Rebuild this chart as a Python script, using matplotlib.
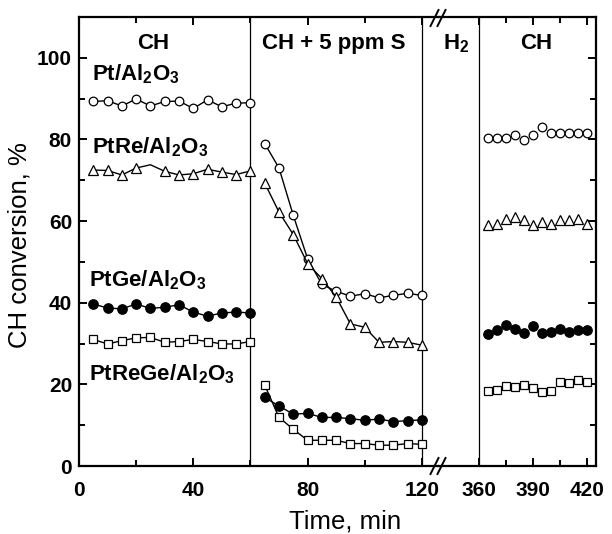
import matplotlib
matplotlib.use('Agg')
import matplotlib.pyplot as plt
from matplotlib.lines import Line2D
from matplotlib.ticker import MultipleLocator, FixedLocator

plt.rcParams['font.family'] = ['Liberation Sans', 'DejaVu Sans']
plt.rcParams['mathtext.fontset'] = 'custom'
plt.rcParams['mathtext.rm'] = 'Liberation Sans'
plt.rcParams['mathtext.bf'] = 'Liberation Sans:bold'
plt.rcParams['mathtext.it'] = 'Liberation Sans:italic'

# ---------------- data ----------------
# first CH period (0-60 min)
t_ch1 = [5, 10, 15, 20, 25, 30, 35, 40, 45, 50, 55, 60]
pt_ch1 = [89.3, 89.5, 88.2, 89.9, 88.2, 89.3, 89.4, 87.6, 89.7, 88.0, 88.9, 89.0]
t_re_ch1 = [5, 10, 15, 20, 25, 30, 35, 40, 45, 50, 55, 60]
re_ch1 = [72.5, 72.4, 71.3, 73.0, 73.8, 72.2, 71.3, 71.6, 72.7, 72.0, 71.4, 72.3]
re_ch1_marked = [0, 1, 2, 3, 5, 6, 7, 8, 9, 10, 11]
ge_ch1 = [39.7, 38.7, 38.5, 39.7, 38.6, 38.9, 39.5, 37.7, 36.7, 37.5, 37.7, 37.5]
rege_ch1 = [31.0, 29.9, 30.7, 31.4, 31.5, 30.3, 30.5, 31.0, 30.5, 29.9, 29.9, 30.5]

# CH + 5 ppm S period (60-120 min)
t_s = [65, 70, 75, 80, 85, 90, 95, 100, 105, 110, 115, 120]
pt_s = [79.0, 73.0, 61.4, 50.8, 44.5, 42.8, 41.6, 42.2, 41.2, 41.8, 42.3, 41.8]
re_s = [69.3, 62.2, 56.7, 49.6, 45.9, 41.4, 34.8, 34.0, 30.3, 30.5, 30.3, 29.6]
ge_s = [16.8, 14.7, 12.7, 12.9, 11.9, 11.9, 11.6, 11.2, 11.5, 10.9, 11.1, 11.3]
rege_s = [19.8, 11.9, 9.0, 6.3, 6.3, 6.3, 5.5, 5.5, 5.1, 5.1, 5.5, 5.3]

# second CH period (after H2 treatment)
t_ch2 = [365, 370, 375, 380, 385, 390, 395, 400, 405, 410, 415, 420]
pt_ch2 = [80.3, 80.3, 80.3, 81.1, 79.9, 81.1, 83.1, 81.5, 81.5, 81.5, 81.5, 81.5]
re_ch2 = [59.0, 59.2, 60.4, 61.0, 60.2, 59.0, 59.8, 59.2, 60.2, 60.2, 60.6, 59.4]
ge_ch2 = [32.4, 33.3, 34.6, 33.6, 32.5, 34.2, 32.5, 32.9, 33.6, 32.8, 33.2, 33.2]
rege_ch2 = [18.4, 18.7, 19.5, 19.4, 19.8, 19.2, 18.2, 18.4, 20.5, 20.3, 21.1, 20.7]

x_major_left = [0, 40, 80, 120]
x_minor_left = [20, 60, 100]
x_major_right = [360, 390, 420]
x_minor_right = [375, 405]
period_lines_left = [60, 120]
period_lines_right = [360]

# ---------------- figure ----------------
W, H = 612, 534
fig = plt.figure(figsize=(W / 100, H / 100), dpi=100)
ax1 = fig.add_axes([79 / W, 68 / H, 360 / W, 449 / H])
ax2 = fig.add_axes([439 / W, 68 / H, 157 / W, 449 / H])

lw = 1.0
ms_c = 6.2
ms_s = 5.6
ms_t = 7.0
mew = 0.9

open_c = dict(marker='o', mfc='white', mec='black', ms=ms_c, mew=mew, color='black', lw=lw)
fill_c = dict(marker='o', mfc='black', mec='black', ms=ms_c + 0.6, mew=mew, color='black', lw=lw)
open_s = dict(marker='s', mfc='white', mec='black', ms=ms_s, mew=mew, color='black', lw=lw)
open_t = dict(marker='^', mfc='white', mec='black', ms=ms_t, mew=mew, color='black', lw=lw)

for v in period_lines_left:
    ax1.axvline(v, color='black', lw=0.9, zorder=1)
for v in period_lines_right:
    ax2.axvline(v, color='black', lw=0.9, zorder=1)

ax1.plot(t_ch1, pt_ch1, **open_c, zorder=3)
ax1.plot(t_re_ch1, re_ch1, markevery=re_ch1_marked, **open_t, zorder=3)
ax1.plot(t_ch1, ge_ch1, **fill_c, zorder=3)
ax1.plot(t_ch1, rege_ch1, **open_s, zorder=3)

ax1.plot(t_s, pt_s, **open_c, zorder=3)
ax1.plot(t_s, re_s, **open_t, zorder=3)
ax1.plot(t_s, ge_s, **fill_c, zorder=3)
ax1.plot(t_s, rege_s, **open_s, zorder=3)

nl = dict(linestyle='none')
ax2.plot(t_ch2, pt_ch2, **{**open_c, **nl}, zorder=3)
ax2.plot(t_ch2, re_ch2, **{**open_t, **nl}, zorder=3)
ax2.plot(t_ch2, ge_ch2, **{**fill_c, **nl}, zorder=3)
ax2.plot(t_ch2, rege_ch2, **{**open_s, **nl}, zorder=3)

ax1.set_xlim(0, 126)
ax2.set_xlim(338, 425)
for ax in (ax1, ax2):
    ax.set_ylim(0, 110)
    ax.yaxis.set_major_locator(MultipleLocator(20))
    ax.yaxis.set_minor_locator(FixedLocator([10, 30, 50, 70, 90]))
    for s in ax.spines.values():
        s.set_linewidth(1.6)

ax1.spines['right'].set_visible(False)
ax2.spines['left'].set_visible(False)

ax1.xaxis.set_major_locator(FixedLocator(x_major_left))
ax1.xaxis.set_minor_locator(FixedLocator(x_minor_left))
ax2.xaxis.set_major_locator(FixedLocator(x_major_right))
ax2.xaxis.set_minor_locator(FixedLocator(x_minor_right))

ax1.tick_params(axis='both', which='both', direction='in', top=True, right=False, width=1.4)
ax1.tick_params(axis='both', which='major', length=6)
ax1.tick_params(axis='both', which='minor', length=4)
ax1.tick_params(axis='x', which='major', pad=11, labelsize=15)
ax1.tick_params(axis='y', which='major', pad=5, labelsize=15)
ax2.tick_params(axis='both', which='both', direction='in', top=True, left=False, right=True,
                labelleft=False, width=1.4)
ax2.tick_params(axis='both', which='major', length=6)
ax2.tick_params(axis='both', which='minor', length=4)
ax2.tick_params(axis='x', which='major', pad=11, labelsize=15)
for ax in (ax1, ax2):
    for lab in ax.get_xticklabels() + ax.get_yticklabels():
        lab.set_fontweight('bold')

# text annotations
bold = dict(fontsize=16, fontweight='bold', color='black')
ax1.text(26, 103.5, 'CH', ha='center', va='center', **bold)
ax1.text(89, 103.5, 'CH + 5 ppm S', ha='center', va='center', **bold)
ax2.text(347.6, 103.5, r'H$_\mathbf{2}$', ha='center', va='center', **bold)
ax2.text(392, 103.5, 'CH', ha='center', va='center', **bold)

ax1.text(4.5, 96, r'Pt/Al$_\mathbf{2}$O$_\mathbf{3}$', ha='left', va='center', **bold)
ax1.text(4.5, 78, r'PtRe/Al$_\mathbf{2}$O$_\mathbf{3}$', ha='left', va='center', **bold)
ax1.text(3.6, 45.5, r'PtGe/Al$_\mathbf{2}$O$_\mathbf{3}$', ha='left', va='center', **bold)
ax1.text(3.6, 22.6, r'PtReGe/Al$_\mathbf{2}$O$_\mathbf{3}$', ha='left', va='center', **bold)

fig.text(345 / W, (H - 522) / H, 'Time, min', ha='center', va='center', fontsize=18.5)
fig.text(20 / W, (H - 245) / H, 'CH conversion, %', ha='center', va='center',
         rotation=90, fontsize=18.5)

# axis-break marks
def brk(xc, yc):
    for dx in (-3.5, 3.5):
        x0, x1 = xc + dx - 4, xc + dx + 4
        y0, y1 = yc + 8, yc - 8
        fig.add_artist(Line2D([x0 / W, x1 / W], [(H - y0) / H, (H - y1) / H],
                              color='black', lw=1.4, transform=fig.transFigure))

brk(438, 18)
brk(438, 466)

fig.savefig('out.png', dpi=100)
